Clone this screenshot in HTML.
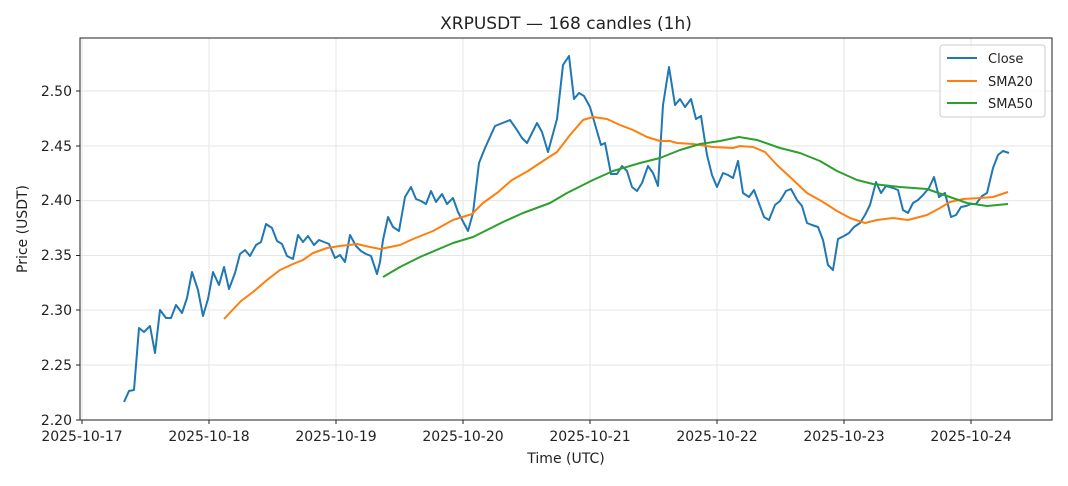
<!DOCTYPE html>
<html><head><meta charset="utf-8"><style>
html,body{margin:0;padding:0;background:#fff;}
svg text{font-family:"DejaVu Sans","Liberation Sans",sans-serif;fill:#222;}
</style></head><body>
<svg width="1068" height="481" viewBox="0 0 1068 481" xmlns="http://www.w3.org/2000/svg">
<rect width="1068" height="481" fill="#fff"/>
<g stroke="#e6e6e6" stroke-width="1">
<line x1="82" y1="38" x2="82" y2="420"/><line x1="209" y1="38" x2="209" y2="420"/><line x1="336" y1="38" x2="336" y2="420"/><line x1="463" y1="38" x2="463" y2="420"/><line x1="590" y1="38" x2="590" y2="420"/><line x1="717" y1="38" x2="717" y2="420"/><line x1="844" y1="38" x2="844" y2="420"/><line x1="971" y1="38" x2="971" y2="420"/>
<line x1="80" y1="365" x2="1052" y2="365"/><line x1="80" y1="310" x2="1052" y2="310"/><line x1="80" y1="255.5" x2="1052" y2="255.5"/><line x1="80" y1="200.6" x2="1052" y2="200.6"/><line x1="80" y1="146" x2="1052" y2="146"/><line x1="80" y1="91" x2="1052" y2="91"/>
</g>
<g fill="none" stroke-width="2" stroke-linejoin="round">
<polyline stroke="#1f77b4" points="124,402 129,391 134,390 139,328 144,332 150,326 155,353 160,310 166,318 171,318 176,305 182,313 187,298 192,272 198,290 203,316 208,299 213,272 219,285 224,267 229,289 235,273 240,254 245,250 250,256 256,245 261,242 266,224 272,228 277,241 282,244 287,256 293,259 298,235 303,242 308,236 314,245 319,240 324,242 329,244 335,258 340,255 345,262 350,235 356,246 361,251 366,254 371,256 377,274 380,262 383,240 388,217 393,227 399,231 405,197 411,187 416,199 421,201 426,204 431,191 436,202 442,194 447,204 453,198 458,212 468,231 473,213 479,163 485,148 495,126 510,120 517,130 522,138 527,143 537,123 542,132 548,152 557,119 563,65 569,56 574,99 579,93 584,96 590,107 601,145 605,143 611,174 617,174 622,166 627,171 632,187 637,191 642,183 648,166 653,173 658,186 663,105 669,67 675,105 680,99 685,107 691,99 696,119 701,116 707,155 712,175 717,187 723,173 728,175 733,178 738,161 743,193 749,197 754,190 764,217 769,220 775,205 780,201 786,191 791,189 797,200 802,206 807,223 812,225 818,227 823,240 828,265 833,270 838,239 844,236 849,233 854,227 860,223 865,215 870,205 876,182 881,193 886,186 893,188 898,190 903,210 908,213 913,203 918,200 923,195 929,188 934,177 939,197 945,193 951,217 956,215 961,207 966,206 971,204 976,204 982,196 987,193 993,168 998,155 1003,151 1009,153"/>
<polyline stroke="#ff7f0e" points="224,319 241,301 253,292 267,280 280,270 293,264 303,260 313,253 327,248 340,246 357,244 370,247 380,249 400,245 413,239 433,231 453,220 472,214 483,203 497,193 512,180 528,171 543,161 557,152 570,135 583,120 593,117 607,119 620,125 633,130 647,137 660,141 670,141 677,143 693,144 713,147 733,148 740,146 753,147 765,152 777,165 790,177 807,193 823,202 837,211 850,218 865,223 877,220 893,218 908,220 927,215 940,208 950,202 963,199 980,198 993,197 1008,192"/>
<polyline stroke="#2ca02c" points="383,277 400,267 420,257 453,243 473,237 503,222 523,213 550,203 567,193 593,180 613,171 640,163 660,158 680,150 700,144 720,141 739,137 757,140 780,148 800,153 820,161 837,171 857,180 873,184 900,187 927,189 947,196 967,203 987,206 1008,204"/>
</g>
<rect x="80" y="38" width="972" height="382" fill="none" stroke="#222" stroke-width="1"/>
<g stroke="#222" stroke-width="1">
<line x1="82" y1="420" x2="82" y2="424"/><line x1="209" y1="420" x2="209" y2="424"/><line x1="336" y1="420" x2="336" y2="424"/><line x1="463" y1="420" x2="463" y2="424"/><line x1="590" y1="420" x2="590" y2="424"/><line x1="717" y1="420" x2="717" y2="424"/><line x1="844" y1="420" x2="844" y2="424"/><line x1="971" y1="420" x2="971" y2="424"/>
<line x1="76" y1="420" x2="80" y2="420"/><line x1="76" y1="365" x2="80" y2="365"/><line x1="76" y1="310" x2="80" y2="310"/><line x1="76" y1="255.5" x2="80" y2="255.5"/><line x1="76" y1="200.6" x2="80" y2="200.6"/><line x1="76" y1="146" x2="80" y2="146"/><line x1="76" y1="91" x2="80" y2="91"/>
</g>
<g font-size="14" text-anchor="middle">
<text x="82" y="441">2025-10-17</text><text x="209" y="441">2025-10-18</text><text x="336" y="441">2025-10-19</text><text x="463" y="441">2025-10-20</text><text x="590" y="441">2025-10-21</text><text x="717" y="441">2025-10-22</text><text x="844" y="441">2025-10-23</text><text x="971" y="441">2025-10-24</text>
</g>
<g font-size="14" text-anchor="end">
<text x="72" y="425">2.20</text><text x="72" y="370">2.25</text><text x="72" y="315">2.30</text><text x="72" y="260">2.35</text><text x="72" y="205">2.40</text><text x="72" y="151">2.45</text><text x="72" y="96">2.50</text>
</g>
<text x="566" y="463" font-size="14" text-anchor="middle">Time (UTC)</text>
<text x="27" y="229" font-size="14" text-anchor="middle" transform="rotate(-90 27 229)">Price (USDT)</text>
<text x="566" y="29" font-size="17" text-anchor="middle">XRPUSDT — 168 candles (1h)</text>
<rect x="940" y="45" width="105" height="72" rx="3" fill="#fff" fill-opacity="0.8" stroke="#ccc"/>
<line x1="947" y1="58" x2="977" y2="58" stroke="#1f77b4" stroke-width="2"/>
<line x1="947" y1="81" x2="977" y2="81" stroke="#ff7f0e" stroke-width="2"/>
<line x1="947" y1="103" x2="977" y2="103" stroke="#2ca02c" stroke-width="2"/>
<g font-size="13"><text x="988" y="63">Close</text><text x="988" y="86">SMA20</text><text x="988" y="108">SMA50</text></g>
</svg>
</body></html>
